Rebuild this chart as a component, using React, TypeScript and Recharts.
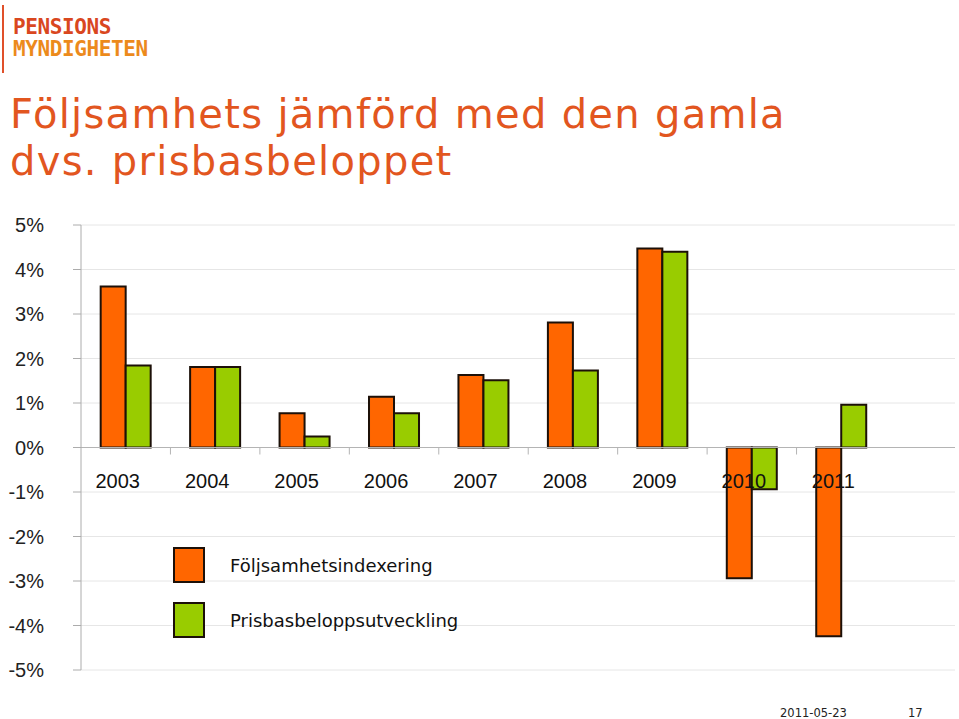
import React from 'react';
import {
  BarChart, Bar, XAxis, YAxis, CartesianGrid, ReferenceLine, Legend,
} from 'recharts';

const years = ['2003', '2004', '2005', '2006', '2007', '2008', '2009', '2010', '2011'];
const foljsamhet = [3.62, 1.81, 0.77, 1.14, 1.63, 2.81, 4.47, -2.94, -4.24];
const prisbas = [1.84, 1.81, 0.25, 0.77, 1.51, 1.73, 4.4, -0.94, 0.96];
const yTicks = [-5, -4, -3, -2, -1, 0, 1, 2, 3, 4, 5];

const seriesNames = ['Följsamhetsindexering', 'Prisbasbeloppsutveckling'];
const ORANGE = '#ff6600';
const GREEN = '#99cc00';
const EDGE = '#1c1008';

const data = years.map((y, i) => ({ year: y, fs: foljsamhet[i], pb: prisbas[i] }));

// plot geometry (page coordinates)
const PLOT_TOP = 225;
const PLOT_BOTTOM = 670;
const PLOT_LEFT = 81;
const CAT_RIGHT = 886;
const BAND = (CAT_RIGHT - PLOT_LEFT) / years.length;
const ZERO_Y = PLOT_TOP + (PLOT_BOTTOM - PLOT_TOP) / 2;

function YearTick(props: any) {
  const { x, payload, index } = props;
  return (
    <g>
      {index > 0 && (
        <line x1={x - BAND / 2} x2={x - BAND / 2} y1={ZERO_Y} y2={ZERO_Y + 7} stroke="#b4b4b4" />
      )}
      <text
        x={x - 8}
        y={ZERO_Y + 33}
        textAnchor="middle"
        dominantBaseline="central"
        fill="#111"
        fontSize={20}
        fontFamily="'Liberation Sans', Arial, sans-serif"
      >
        {payload.value}
      </text>
    </g>
  );
}

function LegendBox(props: any) {
  const items = props.payload || [];
  return (
    <div>
      {items.map((it: any, i: number) => (
        <div key={i} style={{ position: 'relative', height: 55 }}>
          <div
            style={{
              position: 'absolute', left: 0, top: 0, width: 28, height: 32,
              background: it.color, border: `2px solid ${EDGE}`,
            }}
          />
          <div
            style={{
              position: 'absolute', left: 57, top: 8, whiteSpace: 'nowrap',
              fontFamily: "'DejaVu Sans', Verdana, sans-serif", fontSize: 18, color: '#111',
            }}
          >
            {it.value}
          </div>
        </div>
      ))}
    </div>
  );
}

const logoFont = {
  position: 'absolute' as const, left: 13, lineHeight: '21px', letterSpacing: -0.4,
  fontFamily: "'DejaVu Sans Mono', monospace", fontWeight: 'bold' as const, fontSize: 21,
};

export default function App() {
  return (
    <div style={{ position: 'absolute', left: 0, top: 0, width: 959, height: 719, overflow: 'hidden', background: '#fff' }}>
      {/* logo */}
      <div style={{ position: 'absolute', left: 2, top: 5, width: 2, height: 68, background: '#e0502a' }} />
      <div style={{ ...logoFont, top: 17, color: '#d9471f' }}>PENSIONS</div>
      <div style={{ ...logoFont, top: 39, color: '#ec8a1c' }}>MYNDIGHETEN</div>

      {/* title */}
      <div
        style={{
          position: 'absolute', left: 10, top: 91, lineHeight: '47px', whiteSpace: 'nowrap',
          fontFamily: "'DejaVu Sans', Verdana, sans-serif", fontSize: 40, letterSpacing: 1.3, color: '#e2561f',
        }}
      >
        Följsamhets jämförd med den gamla<br />dvs. prisbasbeloppet
      </div>

      <div style={{ position: 'absolute', left: 0, top: 0 }}>
        <BarChart
          width={959}
          height={719}
          data={data}
          margin={{ top: PLOT_TOP, right: 4, bottom: 719 - PLOT_BOTTOM - 1, left: PLOT_LEFT - 60 }}
          barCategoryGap="22%"
          barGap={0}
        >
          <CartesianGrid vertical={false} stroke="#e6e6e6" />
          <YAxis
            width={60}
            domain={[-5, 5]}
            ticks={yTicks}
            interval={0}
            tickFormatter={(v: number) => `${v}%`}
            axisLine={{ stroke: '#acacac' }}
            tickLine={{ stroke: '#acacac' }}
            tickSize={8}
            tickMargin={29}
            tick={{ fill: '#222', fontSize: 20, fontFamily: "'Liberation Sans', Arial, sans-serif" }}
          />
          <ReferenceLine y={0} stroke="#b4b4b4" />
          <Bar dataKey="fs" name={seriesNames[0]} fill={ORANGE} stroke={EDGE} strokeWidth={2} isAnimationActive={false} />
          <Bar dataKey="pb" name={seriesNames[1]} fill={GREEN} stroke={EDGE} strokeWidth={2} isAnimationActive={false} />
          <XAxis
            dataKey="year"
            height={1}
            padding={{ left: 0, right: 955 - CAT_RIGHT }}
            axisLine={false}
            tickLine={false}
            tickSize={0}
            tickMargin={0}
            interval={0}
            tick={<YearTick />}
          />
          <Legend
            layout="horizontal"
            verticalAlign="middle"
            align="center"
            content={<LegendBox />}
            wrapperStyle={{ position: 'absolute', left: 173, top: 547, width: 320, bottom: 'auto' }}
          />
        </BarChart>
      </div>

      {/* footer */}
      <div
        style={{
          position: 'absolute', left: 780, top: 706, fontSize: 11.5,
          fontFamily: "'DejaVu Sans', Verdana, sans-serif", color: '#222',
        }}
      >
        2011-05-23
      </div>
      <div
        style={{
          position: 'absolute', left: 908, top: 706, fontSize: 11.5,
          fontFamily: "'DejaVu Sans', Verdana, sans-serif", color: '#222',
        }}
      >
        17
      </div>
    </div>
  );
}
